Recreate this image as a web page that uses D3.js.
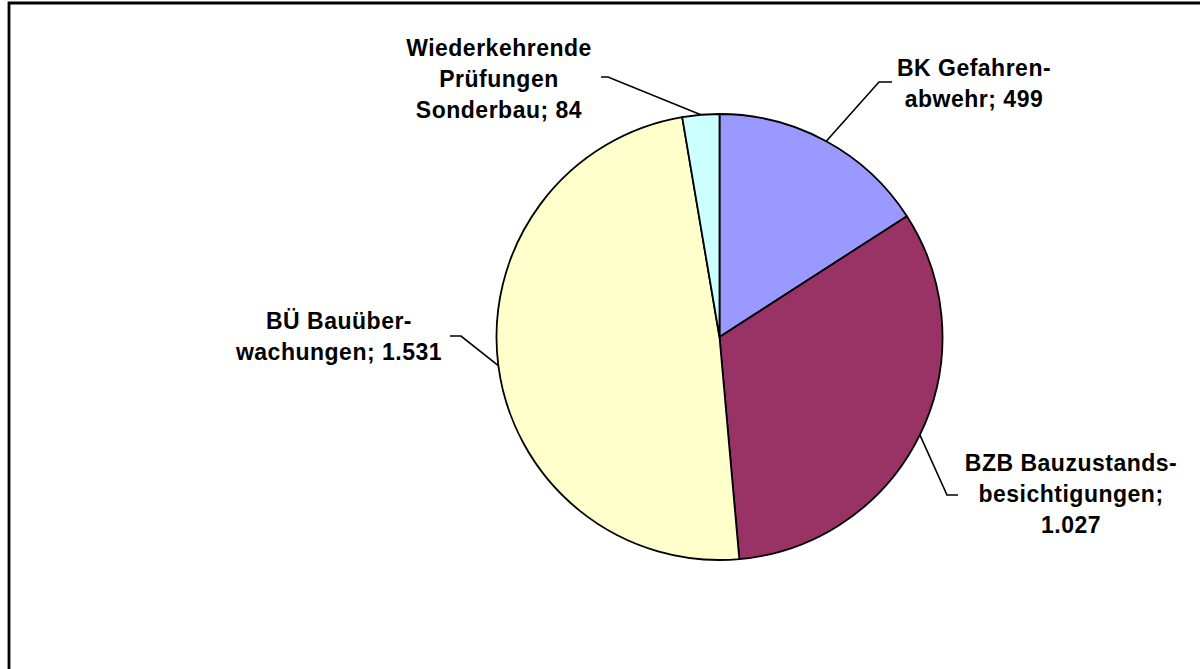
<!DOCTYPE html>
<html>
<head>
<meta charset="utf-8">
<script src="https://cdn.jsdelivr.net/npm/d3@7"></script>
<style>
  html, body { margin: 0; padding: 0; background: #fff; overflow: hidden; }
  svg { display: block; }
  text { font-family: "Liberation Sans", Arial, sans-serif; font-weight: bold; font-size: 23px; fill: #000; letter-spacing: 0.5px; }
</style>
</head>
<body>
<svg id="chart" width="1200" height="669"></svg>
<script>
// ---- data ----
const categories = ["BK Gefahrenabwehr", "BZB Bauzustandsbesichtigungen", "BÜ Bauüberwachungen", "Wiederkehrende Prüfungen Sonderbau"];
const values = [499, 1027, 1531, 84];
const valueLabels = ["499", "1.027", "1.531", "84"];
const labelLines = [
  ["BK Gefahren-", "abwehr; 499"],
  ["BZB Bauzustands-", "besichtigungen;", "1.027"],
  ["BÜ Bauüber-", "wachungen; 1.531"],
  ["Wiederkehrende", "Prüfungen", "Sonderbau; 84"]
];
const colors = ["#9999FF", "#993366", "#FFFFCC", "#CCFFFF"];

// ---- layout ----
const W = 1200, H = 669;
const cx = 719.5, cy = 337, R = 223;
const lineH = 31;
// label block: center x, first baseline, elbow point, end of horizontal stub
const labelLayout = [
  { x: 974, y: 76, elbow: [879, 82], stub: [892, 82] },
  { x: 1071, y: 471, elbow: [947, 495], stub: [958, 495] },
  { x: 339, y: 329, elbow: [461, 336], stub: [450, 336] },
  { x: 499, y: 56, elbow: [608, 77], stub: [601, 77] }
];

const svg = d3.select("#chart");

// frame
svg.append("path")
  .attr("d", `M9,${H + 5} L9,3 L${W + 5},3`)
  .attr("fill", "none").attr("stroke", "#000").attr("stroke-width", 2.8);

const pie = d3.pie().sort(null).value(d => d)(values);
const arc = d3.arc().innerRadius(0).outerRadius(R);
const edgeArc = d3.arc().innerRadius(R).outerRadius(R);

const g = svg.append("g").attr("transform", `translate(${cx},${cy})`);
g.selectAll("path.slice").data(pie).join("path")
  .attr("class", "slice")
  .attr("d", arc)
  .attr("fill", (d, i) => colors[i])
  .attr("stroke", "#000")
  .attr("stroke-width", 1.8)
  .attr("stroke-linejoin", "round");

// leader lines
pie.forEach((d, i) => {
  const c = edgeArc.centroid(d);
  const L = labelLayout[i];
  const p0 = [cx + c[0], cy + c[1]];
  svg.append("path")
    .attr("d", d3.line()([p0, L.elbow, L.stub]))
    .attr("fill", "none").attr("stroke", "#000").attr("stroke-width", 1.6);
});

// labels
labelLines.forEach((lines, i) => {
  const L = labelLayout[i];
  const t = svg.append("text").attr("text-anchor", "middle");
  lines.forEach((s, j) => {
    t.append("tspan").attr("x", L.x).attr("y", L.y + j * lineH).text(s);
  });
});
</script>
</body>
</html>
